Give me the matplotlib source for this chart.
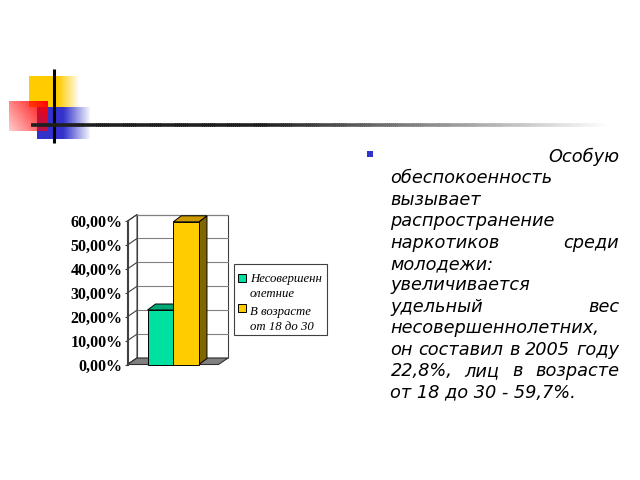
import numpy as np
import matplotlib
matplotlib.use("Agg")
import matplotlib.pyplot as plt
from matplotlib.patches import Polygon, Rectangle

# ---- data ----
categories = ["Несовершенн\nолетние", "В возрасте\nот 18 до 30"]
values = [22.8, 59.7]
yticks = [0, 10, 20, 30, 40, 50, 60]
ytick_labels = ["0,00%", "10,00%", "20,00%", "30,00%", "40,00%", "50,00%", "60,00%"]
bar_colors = ["#00E0A0", "#FFCC00"]
top_colors = ["#00A878", "#CC9900"]
side_colors = ["#007050", "#806600"]
body_lines = [
    ["Особую"],
    ["обеспокоенность"],
    ["вызывает"],
    ["распространение"],
    ["наркотиков", "среди"],
    ["молодежи:"],
    ["увеличивается"],
    ["удельный", "вес"],
    ["несовершеннолетних,"],
    ["он", "составил", "в", "2005", "году"],
    ["22,8%,", "лиц", "в", "возрасте"],
    ["от 18 до 30 - 59,7%."],
]
line_modes = ["right", "left", "left", "left", "justify", "left", "left",
              "justify", "left", "justify", "justify", "left"]

fig = plt.figure(figsize=(6.4, 4.8), dpi=100)
bg = fig.add_axes([0, 0, 1, 1])
bg.axis("off")

# ---- decorative shapes ----
def grad_rect(x0, y0, w, h, rgb, alpha_fn, z):
    nx, ny = 120, 60
    xx, yy = np.meshgrid(np.linspace(0, 1, nx), np.linspace(0, 1, ny))
    img = np.zeros((ny, nx, 4))
    img[..., 0], img[..., 1], img[..., 2] = rgb
    img[..., 3] = alpha_fn(xx, yy)
    bg.imshow(img, extent=(x0, x0 + w, y0 + h, y0), origin="upper",
              interpolation="bilinear", zorder=z, aspect="auto")

grad_rect(29, 76, 49, 31, (1.0, 0.8, 0.0),
          lambda x, y: np.clip(1.0 - np.clip((x - 0.6) / 0.4, 0, 1) * 0.9, 0, 1), 1)
grad_rect(37, 107, 53, 32, (0.2, 0.2, 0.8),
          lambda x, y: np.clip(1.0 - np.clip((x - 0.5) / 0.5, 0, 1) * 0.95, 0, 1), 2)
grad_rect(9, 101, 39, 30, (1.0, 0.0, 0.0),
          lambda x, y: np.clip(0.2 + 0.8 * (0.65 * x + 0.35 * (1 - y)), 0, 1), 3)
bg.set_xlim(0, 640)
bg.set_ylim(480, 0)
bg.plot([54, 54], [69, 143], color="black", lw=2.2, zorder=5, solid_capstyle="butt")
# horizontal fading line
xs = np.linspace(31, 607, 300)
for i in range(len(xs) - 1):
    t = (xs[i] - 31) / (607 - 31)
    g = 0.12 if t < 0.4 else min(1.0, 0.12 + (t - 0.4) / 0.6 * 0.88)
    bg.plot([xs[i], xs[i + 1] + 0.5], [125, 125], color=(g, g, g), lw=2.6,
            zorder=5, solid_capstyle="butt")

# ---- chart ----
x0, x1 = -1.28, 2.26
px_per_x = 91 / (x1 - x0)
px_per_y = 143.4 / 60
ddx, ddy = 9.5 / px_per_x, 6.5 / px_per_y
bdx, bdy = 8.0 / px_per_x, 6.0 / px_per_y

ax = fig.add_axes([127.5 / 640, (480 - 364.5) / 480, 91 / 640, 143.4 / 480])
ax.set_xlim(x0, x1)
ax.set_ylim(0, 60)
ax.patch.set_visible(False)
for s in ["top", "right", "bottom"]:
    ax.spines[s].set_visible(False)
ax.spines["left"].set_color("#404040")
ax.spines["left"].set_linewidth(0.8)
ax.set_xticks([])
ax.set_yticks(yticks)
ax.set_yticklabels(ytick_labels, fontfamily="Liberation Serif",
                   fontweight="bold", fontsize=11.5)
ax.tick_params(axis="y", direction="out", length=2, width=0.8,
               color="#404040", pad=1.5)

edge = "#404040"
# back wall
ax.add_patch(Polygon([(x0 + ddx, ddy), (x1 + ddx, ddy), (x1 + ddx, 60 + ddy),
                      (x0 + ddx, 60 + ddy)], closed=True, fc="white", ec=edge,
                     lw=0.8, clip_on=False, zorder=1))
# left wall
ax.add_patch(Polygon([(x0, 0), (x0 + ddx, ddy), (x0 + ddx, 60 + ddy), (x0, 60)],
                     closed=True, fc="white", ec=edge, lw=0.8, clip_on=False, zorder=1))
for t in yticks:
    ax.plot([x0 + ddx, x1 + ddx], [t + ddy, t + ddy], color="#808080", lw=0.8,
            clip_on=False, zorder=1.5)
    ax.plot([x0, x0 + ddx], [t, t + ddy], color="#404040", lw=0.8,
            clip_on=False, zorder=1.5)
# floor
ax.add_patch(Polygon([(x0, 0), (x1, 0), (x1 + ddx, ddy), (x0 + ddx, ddy)],
                     closed=True, fc="#808080", ec="#303030", lw=0.8,
                     clip_on=False, zorder=2))
# bars
for i, v in enumerate(values):
    l, r = i - 0.5, i + 0.5
    z = 3 + i
    ax.add_patch(Polygon([(r, 0), (r + bdx, bdy), (r + bdx, v + bdy), (r, v)],
                         closed=True, fc=side_colors[i], ec="black", lw=0.7,
                         clip_on=False, zorder=z))
    ax.add_patch(Polygon([(l, v), (r, v), (r + bdx, v + bdy), (l + bdx, v + bdy)],
                         closed=True, fc=top_colors[i], ec="black", lw=0.7,
                         clip_on=False, zorder=z))
    ax.add_patch(Rectangle((l, 0), 1.0, v, fc=bar_colors[i], ec="black", lw=0.7,
                           clip_on=False, zorder=z))

# legend (drawn manually)
bg.add_patch(Rectangle((234, 264), 93, 71, fc="white", ec="#404040", lw=0.8, zorder=6))
leg_y = [(278, 279, 294), (308, 311.5, 326.5)]
for i, lab in enumerate(categories):
    sq_y, t1, t2 = leg_y[i]
    bg.add_patch(Rectangle((238, sq_y - 4), 8, 8, fc=bar_colors[i], ec="black",
                           lw=0.7, zorder=7))
    a, b = lab.split("\n")
    for txt, yy in ((a, t1), (b, t2)):
        bg.text(250, yy, txt, fontfamily="Liberation Serif", style="italic",
                fontsize=9.2, va="center", ha="left", zorder=7)

# ---- right text block ----
bg.add_patch(Rectangle((367, 151), 5.5, 5.5, fc="#3333CC", ec="none", zorder=6))
renderer = fig.canvas.get_renderer()
left_x, right_x = 390.5, 619
line_y0, line_dy = 157, 21.4
fkw = dict(fontfamily="DejaVu Sans", style="italic", fontsize=12.8, va="center")
for k, (words, mode) in enumerate(zip(body_lines, line_modes)):
    y = line_y0 + k * line_dy
    if mode == "right":
        bg.text(right_x, y, " ".join(words), ha="right", **fkw)
    elif mode == "left":
        bg.text(left_x, y, " ".join(words), ha="left", **fkw)
    else:
        widths = []
        for w in words:
            t = bg.text(0, 0, w, **fkw)
            widths.append(t.get_window_extent(renderer).width)
            t.remove()
        gap = (right_x - left_x - sum(widths)) / (len(words) - 1)
        x = left_x
        for w, wd in zip(words, widths):
            bg.text(x, y, w, ha="left", **fkw)
            x += wd + gap

fig.savefig("out.png", dpi=100)
